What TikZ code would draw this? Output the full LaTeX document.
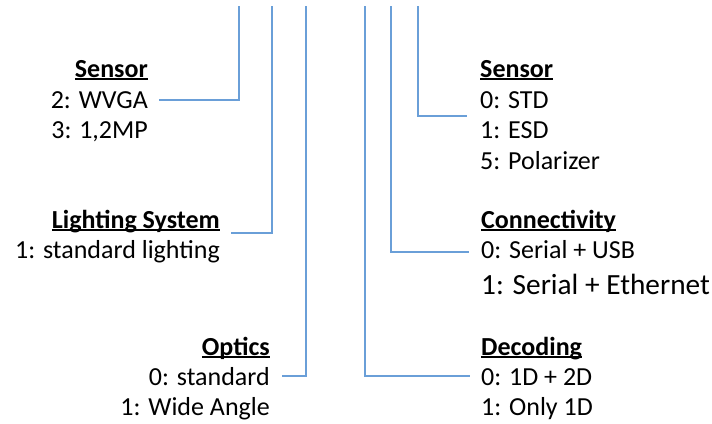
\documentclass[tikz,border=0pt]{standalone}
\usepackage{fontspec}
\setmainfont{Carlito}
\definecolor{linkblue}{HTML}{6A9FD8}
\newcommand{\hd}[1]{\setbox0\hbox{\bfseries #1}\rlap{\rule[-2.8pt]{\wd0}{1.5pt}}\box0}
\tikzset{
  txt/.style={inner sep=0pt, font=\fontsize{26}{31}\selectfont},
  lt/.style={txt, anchor=base east},
  rt/.style={txt, anchor=base west},
  big/.style={inner sep=0pt, anchor=base west, font=\fontsize{29.3}{35}\selectfont},
  link/.style={draw=linkblue, line width=1.4pt}
}
\begin{document}
\begin{tikzpicture}[x=1pt,y=-1pt]
\useasboundingbox (0,0) rectangle (712,423);
% left texts
\node[lt] (s1h) at (148,77) {\hd{Sensor}};
\node[lt] (s1a) at (148,108) {2: WVGA};
\node[lt] (s1b) at (148,138.5) {3: 1,2MP};
\node[lt] (lh) at (220,228) {\hd{Lighting System}};
\node[lt] (la) at (220,258.5) {1: standard lighting};
\node[lt] (oh) at (270,355) {\hd{Optics}};
\node[lt] (oa) at (270,385) {0: standard};
\node[lt] (ob) at (270,415.5) {1: Wide Angle};
% right texts
\node[rt] (s2h) at (480,77) {\hd{Sensor}};
\node[rt] (s2a) at (480,108) {0: STD};
\node[rt] (s2b) at (480,138.5) {1: ESD};
\node[rt] (s2c) at (480,169) {5: Polarizer};
\node[rt] (ch) at (481,228) {\hd{Connectivity}};
\node[rt] (ca) at (481,258.5) {0: Serial + USB};
\node[big] (cb) at (481,294) {1: Serial + Ethernet};
\node[rt] (dh) at (481,355) {\hd{Decoding}};
\node[rt] (da) at (481,385) {0: 1D + 2D};
\node[rt] (db) at (481,415.5) {1: Only 1D};
% top ends
\coordinate (t1) at (239,6);
\coordinate (t2) at (272,6);
\coordinate (t3) at (306,6);
\coordinate (t4) at (365,6);
\coordinate (t5) at (391,6);
\coordinate (t6) at (418,6);
% connectors
\draw[link] (t1) |- ([xshift=11pt,yshift=8pt]s1a.base east);
\draw[link] (t2) |- ([xshift=11pt,yshift=-5pt]lh.base east);
\draw[link] (t3) |- ([xshift=12pt,yshift=9pt]oa.base east);
\draw[link] (t6) |- ([xshift=-13pt,yshift=-8pt]s2a.base west);
\draw[link] (t5) |- ([xshift=-12pt,yshift=6.5pt]ca.base west);
\draw[link] (t4) |- ([xshift=-11pt,yshift=9pt]da.base west);
\end{tikzpicture}
\end{document}
